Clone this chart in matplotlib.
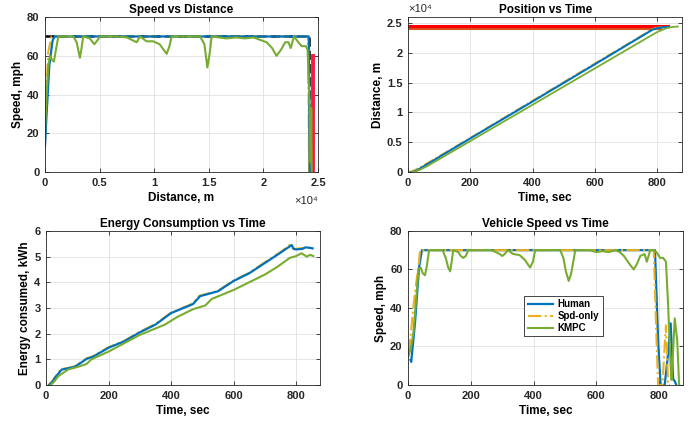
import matplotlib
matplotlib.use("Agg")
import matplotlib.pyplot as plt
from matplotlib.ticker import FuncFormatter

plt.rcParams['font.family'] = ['Liberation Sans', 'DejaVu Sans']
plt.rcParams['font.weight'] = 'bold'

# colores tipo MATLAB
c_hum = '#0072BD'
c_spd = '#EDB120'
c_kmpc = '#77AC30'

# ---- velocidad vs tiempo (s, mph) ----
t_hum = [8, 10, 22, 35, 44, 100, 300, 500, 700, 780, 787, 797, 805, 818, 828, 837, 845, 850, 855]
v_hum = [13, 12, 32, 61, 70, 70, 70, 70, 70, 70, 70, 23, 0, 0, 15, 32, 3, 2, 0]

t_spd = [2, 8, 17, 25, 33, 38, 100, 300, 500, 700, 783, 792, 797, 811, 817, 822, 829, 835]
v_spd = [17, 25, 41, 52, 61, 70, 70, 70, 70, 70, 70, 23, 0, 0, 18, 31, 0, 0]

t_kmpc = [1, 10, 17, 28, 33, 40, 47, 54, 60, 67, 110, 120, 128, 134, 139, 144, 160, 168, 176,
          184, 192, 265, 280, 292, 300, 308, 318, 335, 355, 372, 389, 398, 405, 485, 495, 503,
          512, 520, 533, 580, 600, 620, 640, 660, 675, 688, 705, 719, 730, 740, 754, 761, 772,
          781, 792, 803, 813, 822, 829, 837, 840, 850, 858, 864]
v_kmpc = [15, 20, 27, 49, 60, 61, 58, 57, 62, 70, 70, 66, 61, 59, 64, 70, 69, 67, 66,
          67, 70, 70, 69, 68, 67, 68, 70, 68, 67.5, 65, 61, 64, 70, 70, 66, 59,
          54, 58, 70, 70, 69, 69.5, 69, 70, 69, 67, 63, 60, 63, 67, 68, 64, 70,
          70, 69, 66, 66, 64, 41, 9.5, 2.6, 34.6, 23, 0]

# ---- velocidad vs distancia (m, mph) ----
d_hum = [0, 150, 400, 700, 900, 5000, 12000, 20000, 24150, 24250, 24270, 24290, 24300]
vd_hum = [13, 30, 55, 68, 70, 70, 70, 70, 70, 0, 0, 25, 0]

d_spd = [0, 100, 300, 600, 5000, 12000, 20000, 24100, 24180, 24200, 24230, 24260]
vd_spd = [15, 40, 62, 70, 70, 70, 70, 70, 0, 0, 32, 0]

d_kmpc = [0, 150, 305, 460, 640, 820, 1000, 1220, 2600, 2900, 3200, 3350, 3500, 4100, 4520,
          4800, 5040, 6500, 7500, 8400, 8700, 9300, 9900, 10500, 11140, 11400, 11600, 14200,
          14600, 14870, 15100, 15260, 16600, 17500, 18300, 19100, 20300, 20800, 21200, 21600,
          22000, 22300, 22500, 22800, 23200, 23500, 23900, 24050, 24250, 24330, 24380, 24420]
vd_kmpc = [20, 40, 55, 60, 58, 57, 63, 70, 70, 67, 59, 64, 70, 69, 66,
           68, 70, 70, 69.5, 67, 70, 67.5, 67.5, 66, 61, 65, 70, 70,
           66, 54, 62, 70, 69, 69.5, 69, 69.5, 67, 64, 60, 63,
           67, 67, 64, 70, 67, 65, 65, 63, 30, 5, 33, 0]

# limite de velocidad y semaforo
d_lim = [0, 24150, 24150]
v_lim = [70, 70, 0]
d_luz = [24500, 24500]
v_luz = [0, 60]

# ---- posicion vs tiempo ----
tp_hum = [0, 10, 20, 30, 45, 200, 400, 600, 785, 800, 820, 835]
p_hum = [0, 0, 80, 330, 800, 5650, 11850, 18100, 23900, 24150, 24300, 24350]
tp_spd = [0, 5, 15, 25, 40, 200, 400, 600, 785, 795, 810, 825]
p_spd = [0, 30, 200, 450, 850, 5750, 12000, 18250, 24000, 24200, 24300, 24350]
tp_kmpc = [0, 15, 25, 40, 60, 200, 400, 600, 780, 800, 830, 850, 866]
p_kmpc = [0, 0, 120, 430, 950, 5200, 11300, 17400, 22900, 23500, 24150, 24350, 24420]
t_rojo = [0, 835]
p_rojo = [24450, 24450]
t_amar = [0, 810]
p_amar = [24200, 24200]

# ---- energia vs tiempo (kWh) ----
te_hum = [10, 20, 30, 50, 70, 90, 110, 130, 150, 200, 250, 300, 350, 400, 450, 470, 493,
          550, 600, 650, 700, 750, 786, 792, 800, 820, 830, 845, 853]
e_hum = [0, 0.12, 0.3, 0.6, 0.65, 0.7, 0.85, 1.02, 1.1, 1.45, 1.7, 2.05, 2.35, 2.8, 3.05,
         3.15, 3.46, 3.65, 4.05, 4.35, 4.75, 5.15, 5.45, 5.3, 5.28, 5.3, 5.36, 5.34, 5.32]
te_spd = [8, 20, 30, 48, 70, 90, 110, 130, 150, 200, 250, 300, 350, 400, 450, 470, 490,
          550, 600, 650, 700, 750, 780, 790, 800, 815, 830]
e_spd = [0, 0.15, 0.33, 0.62, 0.66, 0.72, 0.88, 1.04, 1.12, 1.47, 1.72, 2.07, 2.38, 2.82,
         3.07, 3.18, 3.47, 3.67, 4.07, 4.37, 4.78, 5.18, 5.46, 5.32, 5.3, 5.33, 5.33]
te_kmpc = [15, 25, 40, 70, 100, 130, 145, 200, 300, 380, 400, 420, 470, 510, 530, 600,
           700, 740, 780, 800, 818, 834, 845, 855]
e_kmpc = [0, 0.12, 0.35, 0.6, 0.7, 0.82, 1.0, 1.3, 1.95, 2.35, 2.5, 2.65, 2.95, 3.1, 3.35,
          3.7, 4.3, 4.6, 4.95, 5.02, 5.13, 5.0, 5.07, 5.02]

tick_fs = 8
lab_fs = 8.5
tit_fs = 8.5


def estilo(ax):
    ax.grid(True, color='#e0e0e0', linewidth=0.6)
    ax.set_axisbelow(True)
    ax.tick_params(direction='in', top=True, right=True, labelsize=tick_fs,
                   length=3, width=0.6, colors='#262626', pad=4)
    for s in ax.spines.values():
        s.set_color('#262626')
        s.set_linewidth(0.6)


fig = plt.figure(figsize=(6.94, 4.21), dpi=100)
ax1 = fig.add_axes([0.0648, 0.5914, 0.3934, 0.368])
ax2 = fig.add_axes([0.588, 0.5914, 0.395, 0.368])
ax3 = fig.add_axes([0.0663, 0.0855, 0.395, 0.366])
ax4 = fig.add_axes([0.588, 0.0855, 0.396, 0.366])

fmt4 = FuncFormatter(lambda x, p: ('%g' % (x / 1e4)))

# Velocidad vs distancia
ax1.plot(d_lim, v_lim, '--', color='black', lw=1.8)
ax1.plot(d_luz, v_luz, color='#FF1744', lw=2.8)
ax1.plot(d_spd, vd_spd, '-.', color=c_spd, lw=1.5)
ax1.plot(d_hum, vd_hum, color=c_hum, lw=1.6)
ax1.plot(d_kmpc, vd_kmpc, color=c_kmpc, lw=1.5)
ax1.set_xlim(0, 25000)
ax1.set_ylim(0, 80)
ax1.set_xticks([0, 5000, 10000, 15000, 20000, 25000])
ax1.set_yticks([0, 20, 40, 60, 80])
ax1.xaxis.set_major_formatter(fmt4)
ax1.set_title('Speed vs Distance', fontsize=tit_fs, fontweight='bold', pad=3)
ax1.set_xlabel('Distance, m', fontsize=lab_fs, fontweight='bold', labelpad=3)
ax1.set_ylabel('Speed, mph', fontsize=lab_fs, fontweight='bold', labelpad=2)
ax1.text(1.0, -0.155, '×10⁴', transform=ax1.transAxes, ha='right', va='top',
         fontsize=8, fontweight='normal', color='#262626')
estilo(ax1)

# Posicion vs tiempo
ax2.plot(t_amar, p_amar, color='#D95319', lw=2.2)
ax2.plot(t_rojo, p_rojo, color='red', lw=2.2)
ax2.plot(tp_spd, p_spd, '-.', color=c_spd, lw=1.2)
ax2.plot(tp_hum, p_hum, color=c_hum, lw=1.5)
ax2.plot(tp_kmpc, p_kmpc, color=c_kmpc, lw=1.3)
ax2.set_xlim(0, 880)
ax2.set_ylim(0, 26000)
ax2.set_xticks([0, 200, 400, 600, 800])
ax2.set_yticks([0, 5000, 10000, 15000, 20000, 25000])
ax2.yaxis.set_major_formatter(fmt4)
ax2.set_title('Position vs Time', fontsize=tit_fs, fontweight='bold', pad=3)
ax2.set_xlabel('Time, sec', fontsize=lab_fs, fontweight='bold', labelpad=3)
ax2.set_ylabel('Distance, m', fontsize=lab_fs, fontweight='bold', labelpad=2)
ax2.text(0.0, 1.02, '×10⁴', transform=ax2.transAxes, ha='left', va='bottom',
         fontsize=8, fontweight='normal', color='#262626')
estilo(ax2)

# Energia vs tiempo
ax3.plot(te_spd, e_spd, '-.', color=c_spd, lw=1.5)
ax3.plot(te_hum, e_hum, color=c_hum, lw=1.6)
ax3.plot(te_kmpc, e_kmpc, color=c_kmpc, lw=1.5)
ax3.set_xlim(0, 877)
ax3.set_ylim(0, 6)
ax3.set_xticks([0, 200, 400, 600, 800])
ax3.set_yticks([0, 1, 2, 3, 4, 5, 6])
ax3.set_title('Energy Consumption vs Time', fontsize=tit_fs, fontweight='bold', pad=3)
ax3.set_xlabel('Time, sec', fontsize=lab_fs, fontweight='bold', labelpad=3)
ax3.set_ylabel('Energy consumed, kWh', fontsize=lab_fs, fontweight='bold', labelpad=2)
estilo(ax3)

# Velocidad vs tiempo
ax4.plot(t_hum, v_hum, color=c_hum, lw=1.6, label='Human')
ax4.plot(t_spd, v_spd, '-.', color=c_spd, lw=1.5, label='Spd-only')
ax4.plot(t_kmpc, v_kmpc, color=c_kmpc, lw=1.5, label='KMPC')
ax4.set_xlim(0, 876)
ax4.set_ylim(0, 80)
ax4.set_xticks([0, 200, 400, 600, 800])
ax4.set_yticks([0, 20, 40, 60, 80])
ax4.set_title('Vehicle Speed vs Time', fontsize=tit_fs, fontweight='bold', pad=3)
ax4.set_xlabel('Time, sec', fontsize=lab_fs, fontweight='bold', labelpad=3)
ax4.set_ylabel('Speed, mph', fontsize=lab_fs, fontweight='bold', labelpad=2)
leg = ax4.legend(loc='center', bbox_to_anchor=(0.565, 0.448), fontsize=7, fancybox=False,
                 framealpha=1, edgecolor='#262626', handlelength=2.6, borderpad=0.35,
                 labelspacing=0.2, handletextpad=0.5)
leg.get_frame().set_linewidth(0.6)
estilo(ax4)

plt.savefig('out.png', dpi=100)
